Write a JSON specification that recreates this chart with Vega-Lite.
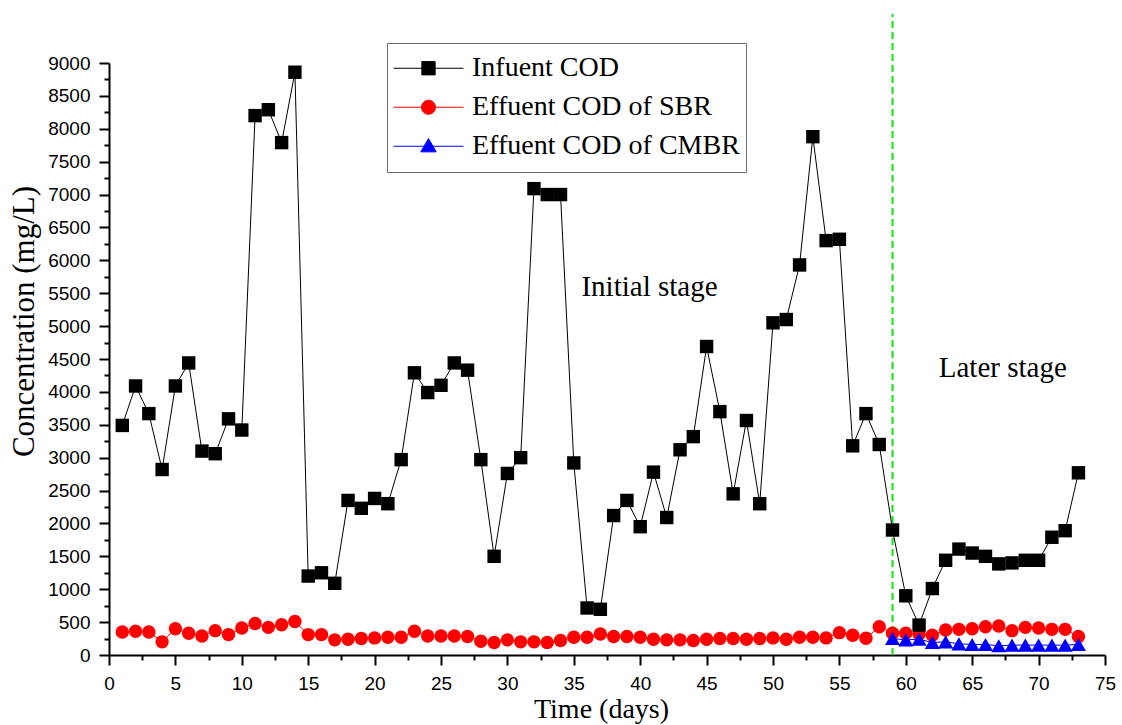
{
  "$schema": "https://vega.github.io/schema/vega-lite/v6.json",
  "width": 996,
  "height": 592,
  "autosize": {"type": "none"},
  "padding": {"left": 109, "top": 63, "right": 17, "bottom": 70},
  "background": "white",
  "config": {"view": {"stroke": null}},
  "datasets": {
    "cod": [
      {"day":1,"series":"Effuent COD of SBR","cod":350},{"day":2,"series":"Effuent COD of SBR","cod":360},{"day":3,"series":"Effuent COD of SBR","cod":350},{"day":4,"series":"Effuent COD of SBR","cod":200},{"day":5,"series":"Effuent COD of SBR","cod":400},{"day":6,"series":"Effuent COD of SBR","cod":330},{"day":7,"series":"Effuent COD of SBR","cod":290},{"day":8,"series":"Effuent COD of SBR","cod":370},{"day":9,"series":"Effuent COD of SBR","cod":310},{"day":10,"series":"Effuent COD of SBR","cod":410},
      {"day":11,"series":"Effuent COD of SBR","cod":480},{"day":12,"series":"Effuent COD of SBR","cod":420},{"day":13,"series":"Effuent COD of SBR","cod":460},{"day":14,"series":"Effuent COD of SBR","cod":510},{"day":15,"series":"Effuent COD of SBR","cod":310},{"day":16,"series":"Effuent COD of SBR","cod":310},{"day":17,"series":"Effuent COD of SBR","cod":230},{"day":18,"series":"Effuent COD of SBR","cod":240},{"day":19,"series":"Effuent COD of SBR","cod":250},{"day":20,"series":"Effuent COD of SBR","cod":260},
      {"day":21,"series":"Effuent COD of SBR","cod":270},{"day":22,"series":"Effuent COD of SBR","cod":270},{"day":23,"series":"Effuent COD of SBR","cod":360},{"day":24,"series":"Effuent COD of SBR","cod":290},{"day":25,"series":"Effuent COD of SBR","cod":290},{"day":26,"series":"Effuent COD of SBR","cod":290},{"day":27,"series":"Effuent COD of SBR","cod":280},{"day":28,"series":"Effuent COD of SBR","cod":210},{"day":29,"series":"Effuent COD of SBR","cod":190},{"day":30,"series":"Effuent COD of SBR","cod":230},
      {"day":31,"series":"Effuent COD of SBR","cod":200},{"day":32,"series":"Effuent COD of SBR","cod":200},{"day":33,"series":"Effuent COD of SBR","cod":190},{"day":34,"series":"Effuent COD of SBR","cod":220},{"day":35,"series":"Effuent COD of SBR","cod":270},{"day":36,"series":"Effuent COD of SBR","cod":270},{"day":37,"series":"Effuent COD of SBR","cod":320},{"day":38,"series":"Effuent COD of SBR","cod":280},{"day":39,"series":"Effuent COD of SBR","cod":280},{"day":40,"series":"Effuent COD of SBR","cod":270},
      {"day":41,"series":"Effuent COD of SBR","cod":240},{"day":42,"series":"Effuent COD of SBR","cod":230},{"day":43,"series":"Effuent COD of SBR","cod":230},{"day":44,"series":"Effuent COD of SBR","cod":220},{"day":45,"series":"Effuent COD of SBR","cod":240},{"day":46,"series":"Effuent COD of SBR","cod":250},{"day":47,"series":"Effuent COD of SBR","cod":250},{"day":48,"series":"Effuent COD of SBR","cod":240},{"day":49,"series":"Effuent COD of SBR","cod":250},{"day":50,"series":"Effuent COD of SBR","cod":260},
      {"day":51,"series":"Effuent COD of SBR","cod":240},{"day":52,"series":"Effuent COD of SBR","cod":270},{"day":53,"series":"Effuent COD of SBR","cod":270},{"day":54,"series":"Effuent COD of SBR","cod":260},{"day":55,"series":"Effuent COD of SBR","cod":340},{"day":56,"series":"Effuent COD of SBR","cod":300},{"day":57,"series":"Effuent COD of SBR","cod":255},{"day":58,"series":"Effuent COD of SBR","cod":430},{"day":59,"series":"Effuent COD of SBR","cod":330},{"day":60,"series":"Effuent COD of SBR","cod":330},
      {"day":61,"series":"Effuent COD of SBR","cod":320},{"day":62,"series":"Effuent COD of SBR","cod":300},{"day":63,"series":"Effuent COD of SBR","cod":380},{"day":64,"series":"Effuent COD of SBR","cod":390},{"day":65,"series":"Effuent COD of SBR","cod":400},{"day":66,"series":"Effuent COD of SBR","cod":430},{"day":67,"series":"Effuent COD of SBR","cod":440},{"day":68,"series":"Effuent COD of SBR","cod":370},{"day":69,"series":"Effuent COD of SBR","cod":420},{"day":70,"series":"Effuent COD of SBR","cod":410},
      {"day":71,"series":"Effuent COD of SBR","cod":390},{"day":72,"series":"Effuent COD of SBR","cod":390},{"day":73,"series":"Effuent COD of SBR","cod":280},
      {"day":59,"series":"Effuent COD of CMBR","cod":250},{"day":60,"series":"Effuent COD of CMBR","cod":230},{"day":61,"series":"Effuent COD of CMBR","cod":240},{"day":62,"series":"Effuent COD of CMBR","cod":190},{"day":63,"series":"Effuent COD of CMBR","cod":200},{"day":64,"series":"Effuent COD of CMBR","cod":170},{"day":65,"series":"Effuent COD of CMBR","cod":160},{"day":66,"series":"Effuent COD of CMBR","cod":160},{"day":67,"series":"Effuent COD of CMBR","cod":140},{"day":68,"series":"Effuent COD of CMBR","cod":150},
      {"day":69,"series":"Effuent COD of CMBR","cod":150},{"day":70,"series":"Effuent COD of CMBR","cod":150},{"day":71,"series":"Effuent COD of CMBR","cod":150},{"day":72,"series":"Effuent COD of CMBR","cod":150},{"day":73,"series":"Effuent COD of CMBR","cod":160},
      {"day":1,"series":"Infuent COD","cod":3490},{"day":2,"series":"Infuent COD","cod":4090},{"day":3,"series":"Infuent COD","cod":3670},{"day":4,"series":"Infuent COD","cod":2820},{"day":5,"series":"Infuent COD","cod":4090},{"day":6,"series":"Infuent COD","cod":4440},{"day":7,"series":"Infuent COD","cod":3100},{"day":8,"series":"Infuent COD","cod":3060},{"day":9,"series":"Infuent COD","cod":3590},{"day":10,"series":"Infuent COD","cod":3420},
      {"day":11,"series":"Infuent COD","cod":8200},{"day":12,"series":"Infuent COD","cod":8290},{"day":13,"series":"Infuent COD","cod":7790},{"day":14,"series":"Infuent COD","cod":8860},{"day":15,"series":"Infuent COD","cod":1200},{"day":16,"series":"Infuent COD","cod":1250},{"day":17,"series":"Infuent COD","cod":1090},{"day":18,"series":"Infuent COD","cod":2350},{"day":19,"series":"Infuent COD","cod":2230},{"day":20,"series":"Infuent COD","cod":2380},
      {"day":21,"series":"Infuent COD","cod":2300},{"day":22,"series":"Infuent COD","cod":2970},{"day":23,"series":"Infuent COD","cod":4290},{"day":24,"series":"Infuent COD","cod":3990},{"day":25,"series":"Infuent COD","cod":4100},{"day":26,"series":"Infuent COD","cod":4440},{"day":27,"series":"Infuent COD","cod":4330},{"day":28,"series":"Infuent COD","cod":2970},{"day":29,"series":"Infuent COD","cod":1500},{"day":30,"series":"Infuent COD","cod":2760},
      {"day":31,"series":"Infuent COD","cod":3000},{"day":32,"series":"Infuent COD","cod":7090},{"day":33,"series":"Infuent COD","cod":7000},{"day":34,"series":"Infuent COD","cod":7000},{"day":35,"series":"Infuent COD","cod":2920},{"day":36,"series":"Infuent COD","cod":715},{"day":37,"series":"Infuent COD","cod":695},{"day":38,"series":"Infuent COD","cod":2120},{"day":39,"series":"Infuent COD","cod":2350},{"day":40,"series":"Infuent COD","cod":1950},
      {"day":41,"series":"Infuent COD","cod":2780},{"day":42,"series":"Infuent COD","cod":2090},{"day":43,"series":"Infuent COD","cod":3120},{"day":44,"series":"Infuent COD","cod":3320},{"day":45,"series":"Infuent COD","cod":4690},{"day":46,"series":"Infuent COD","cod":3700},{"day":47,"series":"Infuent COD","cod":2450},{"day":48,"series":"Infuent COD","cod":3565},{"day":49,"series":"Infuent COD","cod":2300},{"day":50,"series":"Infuent COD","cod":5050},
      {"day":51,"series":"Infuent COD","cod":5100},{"day":52,"series":"Infuent COD","cod":5930},{"day":53,"series":"Infuent COD","cod":7880},{"day":54,"series":"Infuent COD","cod":6300},{"day":55,"series":"Infuent COD","cod":6320},{"day":56,"series":"Infuent COD","cod":3180},{"day":57,"series":"Infuent COD","cod":3670},{"day":58,"series":"Infuent COD","cod":3200},{"day":59,"series":"Infuent COD","cod":1900},{"day":60,"series":"Infuent COD","cod":900},
      {"day":61,"series":"Infuent COD","cod":455},{"day":62,"series":"Infuent COD","cod":1010},{"day":63,"series":"Infuent COD","cod":1440},{"day":64,"series":"Infuent COD","cod":1610},{"day":65,"series":"Infuent COD","cod":1550},{"day":66,"series":"Infuent COD","cod":1500},{"day":67,"series":"Infuent COD","cod":1385},{"day":68,"series":"Infuent COD","cod":1400},{"day":69,"series":"Infuent COD","cod":1440},{"day":70,"series":"Infuent COD","cod":1440},
      {"day":71,"series":"Infuent COD","cod":1790},{"day":72,"series":"Infuent COD","cod":1890},{"day":73,"series":"Infuent COD","cod":2770}
    ],
    "stages": [
      {"day": 40.7, "cod": 5600, "label": "Initial stage"},
      {"day": 67.3, "cod": 4370, "label": "Later stage"}
    ],
    "divider": [
      {"day": 59, "cod": 0, "cod2": 9750}
    ]
  },
  "layer": [
    {
      "data": {"name": "divider"},
      "mark": {"type": "rule", "color": "#11e011", "strokeWidth": 2, "strokeDash": [7, 4], "clip": false},
      "encoding": {
        "x": {"field": "day", "type": "quantitative", "scale": {"domain": [0, 75], "nice": false}},
        "y": {"field": "cod", "type": "quantitative", "scale": {"domain": [0, 9000], "nice": false}},
        "y2": {"field": "cod2"}
      }
    },
    {
      "data": {"name": "cod"},
      "mark": {"type": "line", "strokeWidth": 1},
      "encoding": {
        "x": {"field": "day", "type": "quantitative"},
        "y": {"field": "cod", "type": "quantitative"},
        "color": {
          "field": "series", "type": "nominal",
          "scale": {"domain": ["Infuent COD", "Effuent COD of SBR", "Effuent COD of CMBR"], "range": ["#000000", "#ff0000", "#0000ff"]},
          "legend": {
            "orient": "none", "legendX": 278, "legendY": -20,
            "title": null, "padding": 6, "rowPadding": 0, "clipHeight": 38.5,
            "strokeColor": "#6e6e6e", "fillColor": "white",
            "symbolSize": 4900, "symbolStrokeWidth": 1, "labelOffset": 8,
            "labelFont": "Liberation Serif", "labelFontSize": 28, "labelColor": "black", "labelLimit": 400,
            "encode": {
              "symbols": {"update": {
                "shape": {"signal": "datum.value === 'Infuent COD' ? 'M-1,0H1M-0.19,-0.19H0.19V0.19H-0.19Z' : datum.value === 'Effuent COD of SBR' ? 'M-1,0H1M0.2,0A0.2,0.2 0 1,1 -0.2,0A0.2,0.2 0 1,1 0.2,0Z' : 'M-1,0H1M0,-0.22L0.22,0.16H-0.22Z'"},
                "fill": {"signal": "datum.value === 'Infuent COD' ? '#000000' : datum.value === 'Effuent COD of SBR' ? '#ff0000' : '#0000ff'"},
                "stroke": {"signal": "datum.value === 'Infuent COD' ? '#000000' : datum.value === 'Effuent COD of SBR' ? '#ff0000' : '#4d4dff'"},
                "strokeWidth": {"value": 1},
                "opacity": {"value": 1}
              }}
            }
          }
        }
      }
    },
    {
      "data": {"name": "cod"},
      "transform": [{"filter": "datum.series === 'Effuent COD of SBR'"}],
      "mark": {"type": "point", "shape": "circle", "filled": true, "opacity": 1, "size": 180, "color": "#ff0000"},
      "encoding": {
        "x": {"field": "day", "type": "quantitative"},
        "y": {"field": "cod", "type": "quantitative"}
      }
    },
    {
      "data": {"name": "cod"},
      "transform": [{"filter": "datum.series === 'Effuent COD of CMBR'"}],
      "mark": {"type": "point", "shape": "triangle-up", "filled": true, "opacity": 1, "size": 230, "color": "#0000ff"},
      "encoding": {
        "x": {"field": "day", "type": "quantitative"},
        "y": {"field": "cod", "type": "quantitative"}
      }
    },
    {
      "data": {"name": "cod"},
      "transform": [{"filter": "datum.series === 'Infuent COD'"}],
      "mark": {"type": "point", "shape": "square", "filled": true, "opacity": 1, "size": 180, "color": "#000000"},
      "encoding": {
        "x": {"field": "day", "type": "quantitative"},
        "y": {"field": "cod", "type": "quantitative"}
      }
    },
    {
      "data": {"name": "stages"},
      "mark": {"type": "text", "font": "Liberation Serif", "fontSize": 29, "color": "black", "align": "center", "baseline": "middle"},
      "encoding": {
        "x": {"field": "day", "type": "quantitative"},
        "y": {"field": "cod", "type": "quantitative"},
        "text": {"field": "label"}
      }
    }
  ],
  "encoding": {
    "x": {
      "field": "day", "type": "quantitative",
      "axis": {
        "title": "Time (days)", "titleFont": "Liberation Serif", "titleFontSize": 28, "titleFontWeight": "normal", "titleColor": "black",
        "titleX": 492, "titleY": 54, "titleBaseline": "middle", "titleAlign": "center",
        "values": [0,2.5,5,7.5,10,12.5,15,17.5,20,22.5,25,27.5,30,32.5,35,37.5,40,42.5,45,47.5,50,52.5,55,57.5,60,62.5,65,67.5,70,72.5,75],
        "labelExpr": "datum.value % 5 === 0 ? datum.label : ''",
        "labelFont": "Liberation Sans", "labelFontSize": 19, "labelColor": "black", "labelPadding": 9, "labelFlush": false, "labelOverlap": false,
        "domainColor": "black", "domainWidth": 2, "tickColor": "black", "tickWidth": 2,
        "tickSize": {"condition": {"test": "datum.value % 5 !== 0", "value": 5}, "value": 10},
        "grid": false
      }
    },
    "y": {
      "field": "cod", "type": "quantitative",
      "axis": {
        "title": "Concentration (mg/L)", "titleFont": "Liberation Serif", "titleFontSize": 31, "titleFontWeight": "normal", "titleColor": "black",
        "titleX": -85, "titleY": 258, "titleBaseline": "middle", "titleAlign": "center", "titleAngle": -90,
        "values": [0,250,500,750,1000,1250,1500,1750,2000,2250,2500,2750,3000,3250,3500,3750,4000,4250,4500,4750,5000,5250,5500,5750,6000,6250,6500,6750,7000,7250,7500,7750,8000,8250,8500,8750,9000],
        "format": "d",
        "labelExpr": "datum.value % 500 === 0 ? datum.label : ''",
        "labelFont": "Liberation Sans", "labelFontSize": 19, "labelColor": "black", "labelPadding": 9, "labelFlush": false, "labelOverlap": false,
        "domainColor": "black", "domainWidth": 2, "tickColor": "black", "tickWidth": 2,
        "tickSize": {"condition": {"test": "datum.value % 500 !== 0", "value": 5}, "value": 10},
        "grid": false
      }
    }
  }
}
